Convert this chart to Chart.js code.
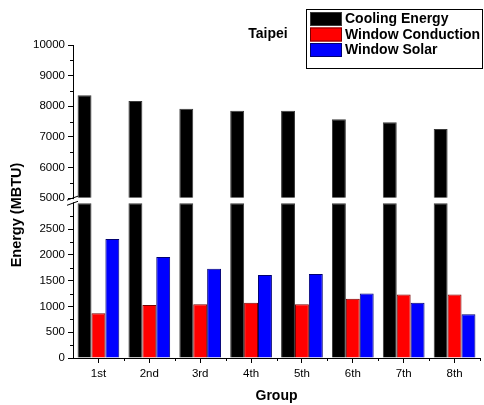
<!DOCTYPE html>
<html><head><meta charset="utf-8">
<script src="https://cdn.jsdelivr.net/npm/chart.js@4.4.0/dist/chart.umd.min.js"></script>
<style>html,body{margin:0;padding:0;background:#fff}#wrap{width:484px;height:405px;position:relative}</style>
</head><body><div id="wrap"><canvas id="c" width="484" height="405"></canvas></div>
<script>
const groups = ['1st','2nd','3rd','4th','5th','6th','7th','8th'];
const coolingEnergy = [8360, 8170, 7920, 7850, 7850, 7580, 7480, 7260];
const windowConduction = [870, 1030, 1040, 1070, 1040, 1150, 1230, 1230];
const windowSolar = [2310, 1960, 1730, 1610, 1630, 1250, 1070, 850];
const upperTicks = [5000, 6000, 7000, 8000, 9000, 10000];
const lowerTicks = [0, 500, 1000, 1500, 2000, 2500];
const upperMin = 5000, upperMax = 10000;
const lowerMin = 0, lowerMax = 3100, lowerCap = 3000;
const seriesNames = ['Cooling Energy', 'Window Conduction', 'Window Solar'];
const chartTitle = 'Taipei';
const yTitle = 'Energy (MBTU)';
const xTitle = 'Group';

Chart.defaults.font.family = "'Liberation Sans', Arial, sans-serif";
Chart.defaults.color = '#000';

const tickFont = {size: 11.5};
const boldFont = {size: 14, weight: 'bold'};

const decor = {
  id: 'decor',
  afterDraw(chart) {
    const ctx = chart.ctx;
    const yU = chart.scales.yTop, yL = chart.scales.y, x = chart.scales.x;
    const ax = chart.chartArea.left;
    ctx.save();
    ctx.strokeStyle = '#000';
    ctx.lineWidth = 1;
    const minorY = (sc, ticks, extra) => {
      const vals = [];
      for (let i = 0; i < ticks.length - 1; i++) vals.push((ticks[i] + ticks[i+1]) / 2);
      if (extra !== undefined) vals.push(extra);
      vals.forEach(v => {
        const p = Math.round(sc.getPixelForValue(v)) + 0.5;
        ctx.beginPath(); ctx.moveTo(ax - 3, p); ctx.lineTo(ax, p); ctx.stroke();
      });
    };
    minorY(yU, upperTicks);
    minorY(yL, lowerTicks, lowerTicks[lowerTicks.length-1] + (lowerTicks[1]-lowerTicks[0]) / 2);
    const yb = chart.chartArea.bottom;
    const step = x.getPixelForValue(1) - x.getPixelForValue(0);
    for (let i = 1; i <= groups.length; i++) {
      const p = Math.round(x.getPixelForValue(i - 1) + step / 2) + 0.5;
      ctx.beginPath(); ctx.moveTo(p, yb); ctx.lineTo(p, yb + 3); ctx.stroke();
    }
    const yTopEnd = yU.getPixelForValue(upperMin);
    const yLowStart = yL.getPixelForValue(lowerCap);
    ctx.fillStyle = '#fff';
    ctx.fillRect(ax - 2, yTopEnd + 1, 4, yLowStart - yTopEnd - 2);
    ctx.beginPath();
    ctx.moveTo(ax - 6, yTopEnd + 2); ctx.lineTo(ax + 5, yTopEnd - 2);
    ctx.moveTo(ax - 6, yLowStart + 2); ctx.lineTo(ax + 5, yLowStart - 2);
    ctx.stroke();
    ctx.fillStyle = '#000';
    ctx.font = "bold 14.5px 'Liberation Sans', Arial, sans-serif";
    ctx.textAlign = 'center'; ctx.textBaseline = 'middle';
    ctx.translate(17, 215); ctx.rotate(-Math.PI / 2);
    ctx.fillText(yTitle, 0, 0);
    ctx.setTransform(1,0,0,1,0,0);
    ctx.font = "bold 14px 'Liberation Sans', Arial, sans-serif";
    ctx.fillText(chartTitle, 268, 34);
    const items = chart.data.datasets.filter(d => !d.hideInLegend);
    const lx = 306, ly = 9, lw = 176, lh = 59;
    ctx.strokeRect(lx + 0.5, ly + 0.5, lw, lh);
    ctx.textAlign = 'left';
    items.forEach((d, i) => {
      const sy = 12 + i * 15.5;
      ctx.fillStyle = d.backgroundColor;
      ctx.fillRect(310, sy, 32, 14);
      ctx.strokeStyle = d.borderColor;
      ctx.strokeRect(310.5, sy + 0.5, 31, 13);
      ctx.fillStyle = '#000';
      ctx.fillText(d.label, 345, sy + 7.5);
    });
    ctx.restore();
  }
};

const yCommon = {
  type: 'linear',
  position: 'left',
  stack: 'energy',
  stacked: false,
  offset: false,
  grid: {drawOnChartArea: false, tickLength: 5, color: '#000'},
  border: {color: '#000', width: 1},
  ticks: {font: tickFont, padding: 3, color: '#000', callback: v => String(v)},
  afterFit: s => { s.width = 73; }
};

new Chart(document.getElementById('c'), {
  type: 'bar',
  data: {
    labels: groups,
    datasets: [
      {label: seriesNames[0], data: coolingEnergy, yAxisID: 'yTop', stack: 'cool', base: upperMin,
       backgroundColor: '#000000', borderColor: '#3a3a3a', borderWidth: 1},
      {label: seriesNames[0], data: coolingEnergy.map(v => Math.min(v, lowerCap)), yAxisID: 'y', stack: 'cool',
       backgroundColor: '#000000', borderColor: '#3a3a3a', borderWidth: 1, hideInLegend: true},
      {label: seriesNames[1], data: windowConduction, yAxisID: 'y', stack: 'cond',
       backgroundColor: '#ff0000', borderColor: '#7a0000', borderWidth: 1},
      {label: seriesNames[2], data: windowSolar, yAxisID: 'y', stack: 'sol',
       backgroundColor: '#0000ff', borderColor: '#000070', borderWidth: 1}
    ]
  },
  options: {
    responsive: false,
    animation: false,
    devicePixelRatio: 1,
    categoryPercentage: 0.82,
    barPercentage: 1.0,
    layout: {padding: {top: 45, right: 4, left: 0, bottom: 0}},
    plugins: {legend: {display: false}, title: {display: false}, tooltip: {enabled: false}},
    scales: {
      x: {
        type: 'category',
        offset: true,
        grid: {offset: false, drawOnChartArea: false, tickLength: 5, color: '#000'},
        border: {color: '#000', width: 1},
        ticks: {font: tickFont, padding: 4, color: '#000', maxRotation: 0},
        title: {display: true, text: xTitle, font: boldFont, color: '#000', padding: {top: 0, bottom: 0}},
        afterFit: s => { s.height = 47; }
      },
      y: Object.assign({}, yCommon, {
        min: lowerMin, max: lowerMax, stackWeight: 160, weight: 1,
        afterBuildTicks: s => { s.ticks = lowerTicks.map(v => ({value: v})); }
      }),
      yTop: Object.assign({}, yCommon, {
        min: upperMin, max: upperMax, stackWeight: 153.3, weight: 2,
        afterBuildTicks: s => { s.ticks = upperTicks.map(v => ({value: v})); }
      })
    }
  },
  plugins: [decor]
});
</script>
</body></html>
